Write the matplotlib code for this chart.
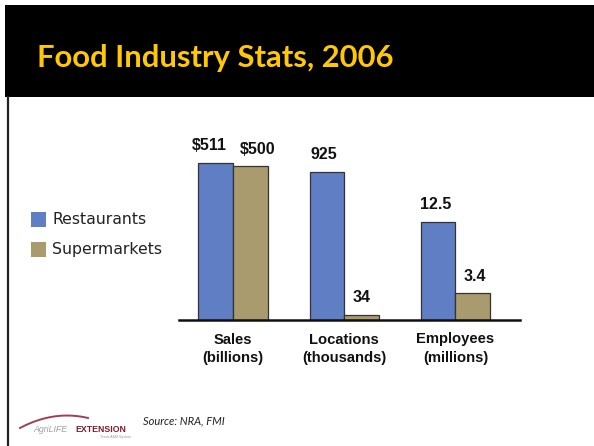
import numpy as np
import matplotlib
matplotlib.use("Agg")
import matplotlib.pyplot as plt
from matplotlib.patches import Rectangle
from matplotlib.lines import Line2D

# ---- data ----
categories = ["Sales\n(billions)", "Locations\n(thousands)", "Employees\n(millions)"]
series_names = ["Restaurants", "Supermarkets"]
restaurants = [511, 925, 12.5]
supermarkets = [500, 34, 3.4]
value_labels_r = ["$511", "925", "12.5"]
value_labels_s = ["$500", "34", "3.4"]

# each group is drawn on its own scale (units differ per category)
group_peak = [157, 148, 98]

W, H = 594, 446
fig = plt.figure(figsize=(W / 100, H / 100), dpi=100)
fig.patch.set_facecolor("white")


def fx(x):
    return x / W


def fy(y):
    return 1 - y / H


# header band
fig.add_artist(Rectangle((fx(5), fy(97)), 1 - fx(5), fy(5) - fy(97),
                         transform=fig.transFigure, facecolor="black",
                         edgecolor="none", zorder=0))
fig.text(fx(37), fy(58), "Food Industry Stats, 2006", color="#FFC800",
         fontsize=22.3, family="Lato", fontweight="bold", va="center",
         ha="left")

# left rule
fig.add_artist(Line2D([fx(8), fx(8)], [fy(97), 0], transform=fig.transFigure,
                      color="#222222", lw=1.6))

# plot area
ax_left, ax_right = 179, 520
ax_top, ax_bottom = 120, 320
ax = fig.add_axes([fx(ax_left), fy(ax_bottom), fx(ax_right) - fx(ax_left),
                   fy(ax_top) - fy(ax_bottom)])
ax.set_ylim(0, ax_bottom - ax_top)
spacing = 111.2
ax.set_xlim((ax_left - 233) / spacing, (ax_right - 233) / spacing)

x = np.arange(len(categories))
bw = 0.312
scale = [peak / max(r, s) for peak, r, s in zip(group_peak, restaurants, supermarkets)]
h_r = [v * k for v, k in zip(restaurants, scale)]
h_s = [v * k for v, k in zip(supermarkets, scale)]

blue = "#5F7EC3"
tan = "#A99B6E"
ax.bar(x - bw / 2, h_r, bw, color=blue, edgecolor="#333333", linewidth=0.9, zorder=2)
ax.bar(x + bw / 2, h_s, bw, color=tan, edgecolor="#333333", linewidth=0.9, zorder=2)

label_dx_r = [-6, -3, -2]
label_dx_s = [7, 0, 2]
for i in range(len(categories)):
    ax.annotate(value_labels_r[i], (x[i] - bw / 2, h_r[i]),
                xytext=(label_dx_r[i] * 0.72, 7), textcoords="offset points",
                ha="center", va="bottom", fontsize=11.5, fontweight=700,
                family="Liberation Sans", color="#111111")
    ax.annotate(value_labels_s[i], (x[i] + bw / 2, h_s[i]),
                xytext=(label_dx_s[i] * 0.72, 7), textcoords="offset points",
                ha="center", va="bottom", fontsize=11.5, fontweight=700,
                family="Liberation Sans", color="#111111")

for sp in ["top", "right", "left"]:
    ax.spines[sp].set_visible(False)
ax.spines["bottom"].set_linewidth(1.8)
ax.spines["bottom"].set_color("#111111")
ax.set_yticks([])
ax.set_xticks(x)
ax.set_xticklabels(categories, fontsize=10.6, fontweight=700,
                   family="Liberation Sans", color="#111111", linespacing=1.4)
ax.tick_params(axis="x", length=0, pad=9)
ax.patch.set_alpha(0)

# legend
for j, (name, col) in enumerate(zip(series_names, [blue, tan])):
    y0 = 212 + j * 29.5
    fig.add_artist(Rectangle((fx(31), fy(y0 + 15)), 15 / W, 15 / H,
                             transform=fig.transFigure, facecolor=col,
                             edgecolor="none"))
    fig.text(fx(52), fy(y0 + 8), name, fontsize=11.3, family="DejaVu Sans",
             color="#222222", va="center", ha="left")

# footer logo
t = np.linspace(0, 1, 60)
arc_x = 20 + 68 * t
arc_y = 428 - 36 * t + 26 * t ** 2
fig.add_artist(Line2D(fx(arc_x), fy(arc_y), transform=fig.transFigure,
                      color="#8B2035", lw=1.4, alpha=0.85))
fig.text(fx(33), fy(429), "AgriLIFE", fontsize=6.3, family="Liberation Sans",
         style="italic", color="#a0a0a0", va="center", ha="left")
fig.text(fx(75), fy(429), "EXTENSION", fontsize=6.3, family="Liberation Sans",
         fontweight="bold", color="#7A1E2E", va="center", ha="left")
fig.text(fx(100), fy(437), "Texas A&M System", fontsize=2.6,
         family="Liberation Sans", color="#999999", va="center", ha="left")

fig.text(fx(143), fy(421), "Source: NRA, FMI", fontsize=8, family="Lato",
         style="italic", color="#222222", va="center", ha="left")

fig.savefig("out.png", dpi=100)
